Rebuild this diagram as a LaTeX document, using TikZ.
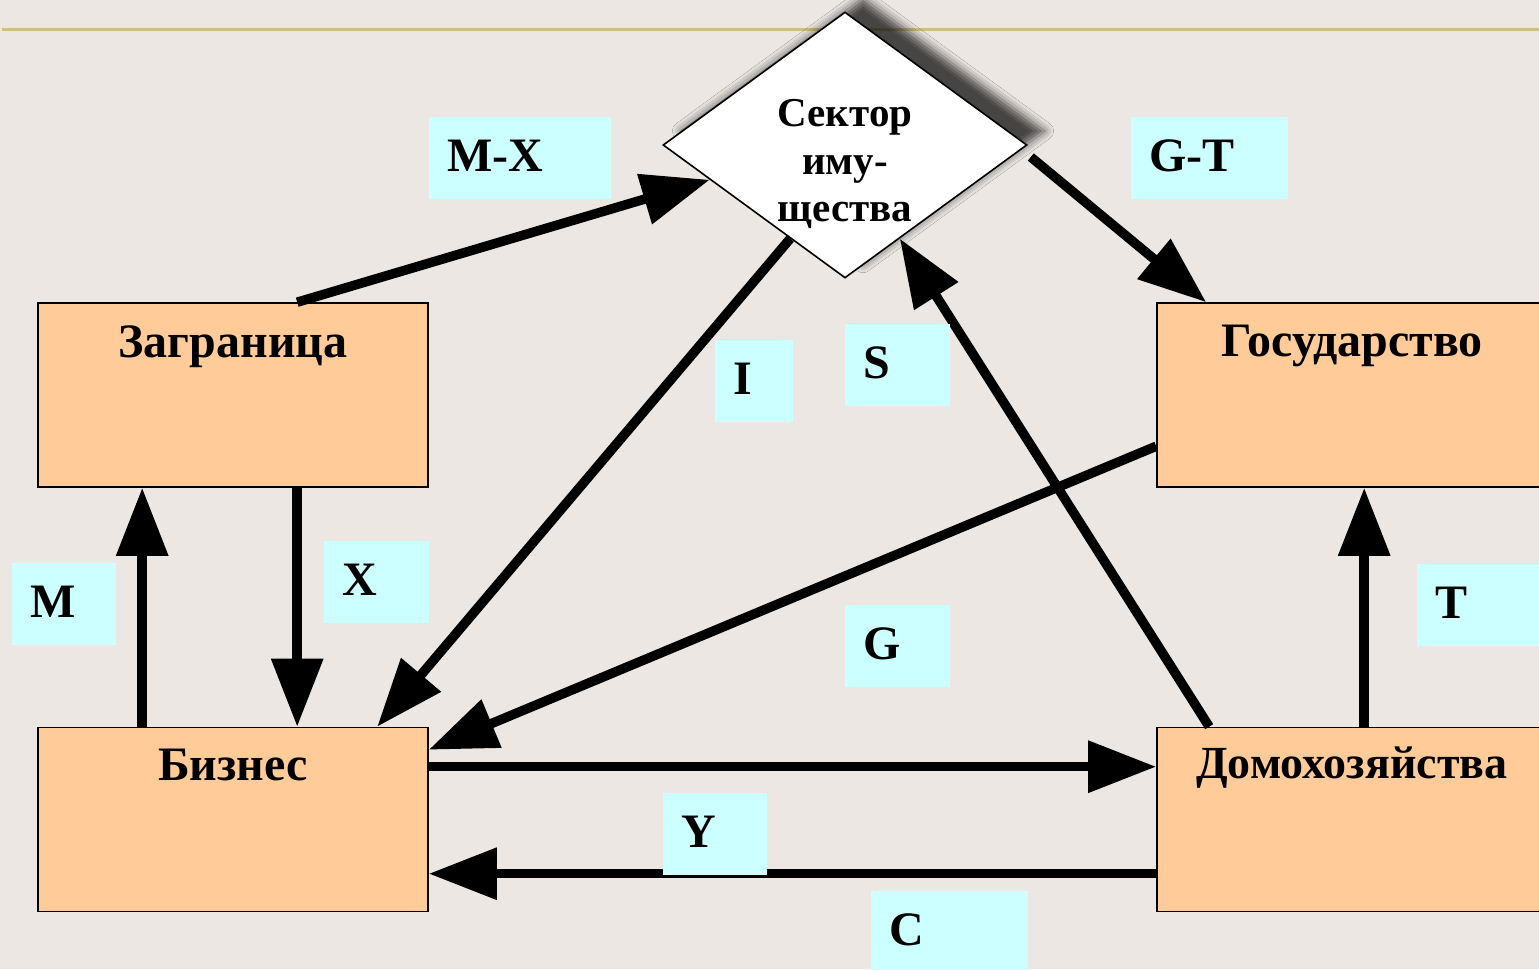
\documentclass[tikz,border=0pt]{standalone}
\usepackage{fontspec}
\setmainfont{Liberation Serif}
\usetikzlibrary{shapes.geometric,arrows.meta,calc,shadows.blur}
\definecolor{bgc}{HTML}{ECE7E3}
\definecolor{linec}{HTML}{CFBE86}
\definecolor{boxc}{HTML}{FFCC99}
\definecolor{labc}{HTML}{CCFFFF}
\tikzset{
  sector/.style={draw=black, line width=1.6pt, minimum width=390pt, minimum height=184pt, fill=boxc, inner sep=0pt},
  boxtext/.style={anchor=base, font=\fontsize{48}{52}\selectfont\bfseries, inner sep=0pt},
  lab/.style={fill=labc, anchor=north west, minimum height=82pt, inner xsep=18pt, inner ysep=0pt,
              text height=33pt, text depth=6pt, align=left, font=\fontsize{48}{52}\selectfont\bfseries},
  flow/.style={line width=9.5pt, -{Triangle[length=68pt,width=50pt]}},
}
\begin{document}
\begin{tikzpicture}[x=1pt,y=-1pt]
\useasboundingbox (0,0) rectangle (1539,969);
\fill[bgc] (0,0) rectangle (1539,969);
\draw[linec, line width=3pt] (2,29) -- (1539,29);

% sector boxes
\node[sector] (zag) at (233,395) {};
\node[sector] (biz) at (233,819.5) {};
\node[sector] (gos) at (1352,395) {};
\node[sector] (dom) at (1352,819.5) {};
\node[boxtext] (zagT) at ($(zag.north)+(0,55)$) {Заграница};
\node[boxtext] (bizT) at ($(biz.north)+(0,54)$) {Бизнес};
\node[boxtext] (gosT) at ($(gos.north)+(0,54)$) {Государство};
\node[boxtext, font=\fontsize{46}{50}\selectfont\bfseries] (domT) at ($(dom.north)+(0,52)$) {Домохозяйства};

% property sector
\node[diamond, draw=black, line width=1.6pt, fill=white, minimum width=364pt, minimum height=266pt, inner sep=0pt,
      blur shadow={shadow xshift=18pt, shadow yshift=14pt, shadow blur radius=9pt, shadow opacity=70}] (d) at (845,145) {};
\node[align=center, font=\fontsize{41}{47.5}\selectfont\bfseries, inner sep=0pt] (dT) at (845,164) {Сектор\\иму-\\щества};

% flows
\draw[flow] ($(zag.north west)+(260,0)$) -- ($(d.west)!0.26!(d.south)$);
\draw[flow] ($(d.east)+(3,12)$) -- ($(gos.north west)+(50,0)$);
\draw[flow] ($(d.west)!0.70!(d.south)$) -- ($(biz.north west)+(340,0)$);
\draw[flow] ($(dom.north west)+(53,0)$) -- ($(d.south)!0.30!(d.east)$);
\draw[flow] ($(gos.north west)+(0,144)$) -- ($(biz.north east)+(0,23)$);
\draw[flow] ($(biz.north east)+(0,40)$) -- ($(dom.north west)+(0,40)$);
\draw[flow] ($(dom.north west)+(0,147)$) -- ($(biz.north east)+(0,147)$);
\draw[flow] ($(zag.south west)+(260,0)$) -- ($(biz.north west)+(260,0)$);
\draw[flow] ($(biz.north west)+(105,0)$) -- ($(zag.south west)+(105,0)$);
\draw[flow] ($(dom.north west)+(208,0)$) -- ($(gos.south west)+(208,0)$);

% labels
\node[lab, text width=146pt] (lMX) at (429,117) {M-X};
\node[lab, text width=121pt] (lGT) at (1131,117) {G-T};
\node[lab, text width=42pt]  (lI)  at (715,340) {I};
\node[lab, text width=69pt]  (lS)  at (845,324) {S};
\node[lab, text width=69pt]  (lX)  at (324,541) {X};
\node[lab, text width=68pt]  (lM)  at (12,563) {M};
\node[lab, text width=100pt] (lT)  at (1417,564) {T};
\node[lab, text width=69pt]  (lG)  at (845,605) {G};
\node[lab, text width=68pt]  (lY)  at (663,793) {Y};
\node[lab, text width=121pt] (lC)  at (871,891) {C};
\end{tikzpicture}
\end{document}
